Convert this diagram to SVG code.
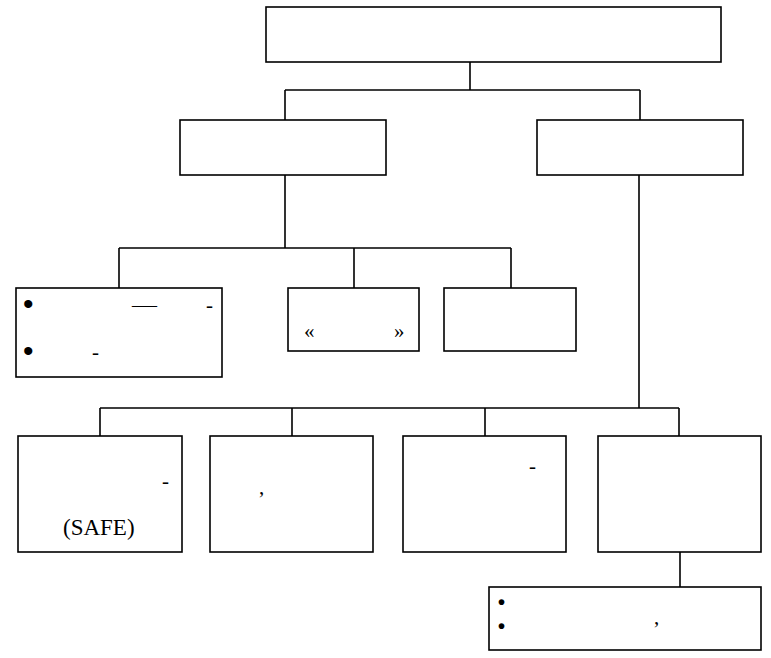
<svg xmlns="http://www.w3.org/2000/svg" width="771" height="658" viewBox="0 0 771 658">
<style>
.b{fill:#fff;stroke:#000;stroke-width:1.6}
.c{fill:none;stroke:#000;stroke-width:1.6}
text{font-family:"Liberation Serif","Times New Roman",serif;font-size:21px;fill:#000}
.bl{font-family:"Liberation Sans",Arial,sans-serif;font-size:30px}
.bs{font-family:"Liberation Sans",Arial,sans-serif;font-size:20px;font-weight:bold}
.s{font-size:23px}
</style>
<rect width="771" height="658" fill="#fff"/>
<g id="connectors">
<path class="c" d="M470 62V90M285 90H640M285 90V120M640 90V120"/>
<path class="c" d="M285 175V248M119 248H511M119 248V288M354 248V288M511 248V288"/>
<path class="c" d="M639 175V408M100 408H679M100 408V436M292 408V436M485 408V436M679 408V436"/>
<path class="c" d="M680 552V587"/>
</g>
<g id="n0"><rect class="b" x="266" y="7" width="455" height="55"/></g>
<g id="n1"><rect class="b" x="180" y="120" width="206" height="55"/></g>
<g id="n2"><rect class="b" x="537" y="120" width="206" height="55"/></g>
<g id="n3"><rect class="b" x="16" y="288" width="206" height="89"/>
<text class="bl" x="23" y="314">•</text>
<text x="132" y="312" textLength="25" lengthAdjust="spacingAndGlyphs">—</text>
<text x="206" y="312">-</text>
<text class="bl" x="23" y="361">•</text>
<text x="92" y="359">-</text>
</g>
<g id="n4"><rect class="b" x="288" y="288" width="131" height="63"/>
<text x="304" y="338">«</text>
<text x="394" y="338">»</text>
</g>
<g id="n5"><rect class="b" x="444" y="288" width="132" height="63"/></g>
<g id="n6"><rect class="b" x="18" y="436" width="164" height="116"/>
<text x="162" y="488">-</text>
<text class="s" x="63" y="535">(SAFE)</text>
</g>
<g id="n7"><rect class="b" x="210" y="436" width="163" height="116"/>
<text x="259" y="494">,</text>
</g>
<g id="n8"><rect class="b" x="403" y="436" width="163" height="116"/>
<text x="529" y="473">-</text>
</g>
<g id="n9"><rect class="b" x="598" y="436" width="163" height="116"/></g>
<g id="n10"><rect class="b" x="489" y="587" width="272" height="63"/>
<text class="bs" x="498" y="609">•</text>
<text class="bs" x="498" y="633">•</text>
<text x="654" y="624">,</text>
</g>
</svg>
